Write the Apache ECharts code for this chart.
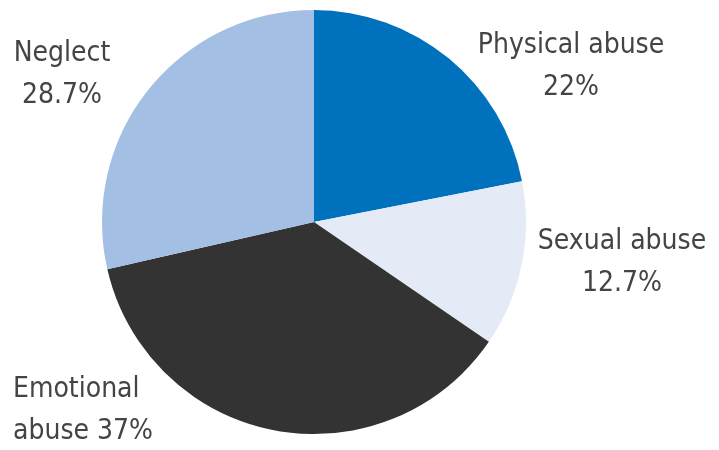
<!DOCTYPE html>
<html>
<head>
<meta charset="utf-8">
<script src="https://cdn.jsdelivr.net/npm/echarts@6/dist/echarts.min.js"></script>
<style>
    html, body { margin: 0; padding: 0; background: #fff; }
    #chart { width: 719px; height: 450px; }
</style>
</head>
<body>
<div id="chart"></div>
<script>
// data
const categories = ['Physical abuse', 'Sexual abuse', 'Emotional abuse', 'Neglect']
const values = [22, 12.7, 37, 28.7]
const colors = ['#0071bd', '#e4eaf6', '#333333', '#a3c0e4']

// where each label sits (x, y of text anchor) and how it is aligned
const labelPos = [
    { x: 571, y: 67, align: 'center' },
    { x: 622, y: 263, align: 'center' },
    { x: 13, y: 411, align: 'left' },
    { x: 62, y: 75, align: 'center' }
]

function labelText(name, value) {
    // the emotional label breaks inside the name
    if (name === 'Emotional abuse') return 'Emotional\nabuse ' + value + '%'
    return name + '\n' + value + '%'
}

const myChart = echarts.init(document.getElementById('chart'))
myChart.setOption({
    animation: false,
    series: [
        {
            type: 'pie',
            center: [314, 222],
            radius: 212,
            startAngle: 90,
            clockwise: true,
            data: categories.map((c, i) => ({
                name: c,
                value: values[i],
                itemStyle: { color: colors[i] }
            })),
            label: {
                show: true,
                position: 'outside',
                alignTo: 'none',
                overflow: 'none',
                formatter: p => labelText(p.name, p.value),
                fontFamily: '"Liberation Sans Narrow", "DejaVu Sans Condensed", sans-serif',
                fontSize: 28,
                lineHeight: 42,
                color: '#444'
            },
            labelLine: { show: false },
            labelLayout: function (params) {
                const p = labelPos[params.dataIndex]
                return { x: p.x, y: p.y, align: p.align, verticalAlign: 'middle' }
            }
        }
    ]
})
</script>
</body>
</html>
